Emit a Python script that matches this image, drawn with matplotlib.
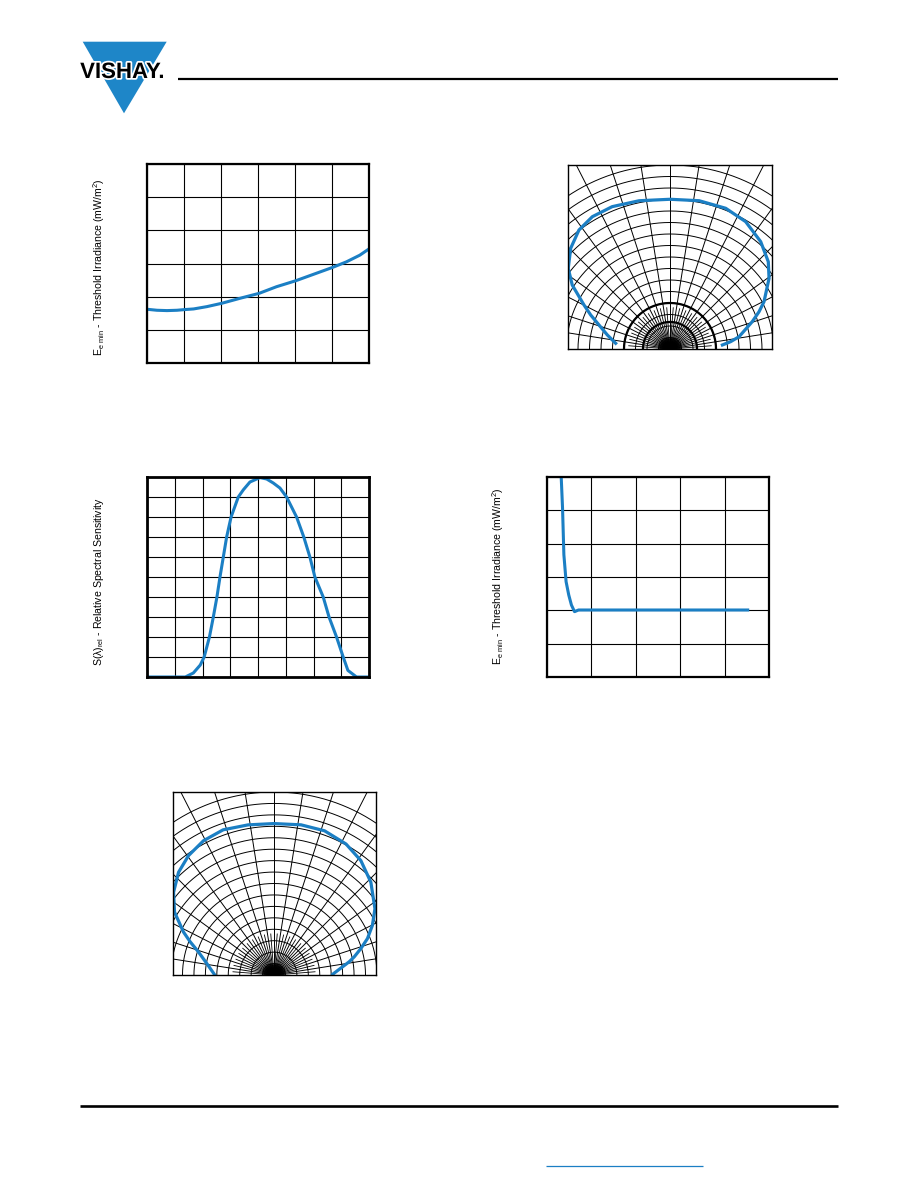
import numpy as np
import matplotlib
matplotlib.use("Agg")
import matplotlib.pyplot as plt
from matplotlib.patches import Polygon
import matplotlib.patheffects as pe

plt.rcParams['font.family'] = ['Liberation Sans', 'DejaVu Sans']
plt.rcParams['mathtext.default'] = 'regular'

BLUE = '#1b7fc4'

# ---------------- data ----------------
# Fig 1: threshold irradiance vs ambient temperature
temp_c = [-30, -24.6, -19.2, -13.8, -9.8, -4.8, 2.4, 10.4, 20.2, 30.6, 40, 50.4, 59.8, 70.2, 77.8, 85, 90]
irr_temp = [0.162, 0.159, 0.158, 0.159, 0.161, 0.163, 0.170, 0.180, 0.195, 0.210,
            0.230, 0.248, 0.267, 0.288, 0.305, 0.325, 0.344]
temp_ticks = [-30, -10, 10, 30, 50, 70, 90]
irr_ticks1 = [0, 0.1, 0.2, 0.3, 0.4, 0.5, 0.6]

# Fig 3: relative spectral sensitivity
wavelength = [750, 819, 833.5, 846, 853, 862.5, 869.5, 876, 881.5, 887.5, 893.5, 901.5, 914.5,
              923.6, 935.5, 953.5, 965.6, 977.5, 989.5, 1001.5, 1019.5, 1032.5, 1043.5, 1052.5,
              1067.5, 1078, 1091.5, 1103.5, 1112, 1127.5, 1150]
s_rel = [0, 0, 0.02, 0.06, 0.1, 0.2, 0.3, 0.4, 0.5, 0.6, 0.7, 0.8, 0.9,
         0.936, 0.975, 0.997, 0.99, 0.97, 0.945, 0.9, 0.8, 0.7, 0.6, 0.5,
         0.4, 0.3, 0.2, 0.1, 0.033, 0, 0]
wl_ticks = [750, 800, 850, 900, 950, 1000, 1050, 1100, 1150]
s_ticks = [0, 0.1, 0.2, 0.3, 0.4, 0.5, 0.6, 0.7, 0.8, 0.9, 1.0]

# Fig 4: threshold irradiance vs. x (no labels in source)
x4 = [0.32, 0.35, 0.38, 0.43, 0.49, 0.55, 0.62, 0.71, 4.52]
irr4 = [0.600, 0.507, 0.367, 0.286, 0.246, 0.216, 0.196, 0.201, 0.201]
x4_ticks = [0, 1, 2, 3, 4, 5]
irr_ticks4 = [0, 0.1, 0.2, 0.3, 0.4, 0.5, 0.6]

# Fig 2 / Fig 5: angular diagrams (angle from axis in deg, radius in grid units)
ang2 = [-84.0, -77.4, -71.3, -66.8, -62.9, -56.8, -51.6, -44.6, -37.4, -30.4, -22.1, -11.8, 0,
        11.1, 21.6, 30.7, 40.2, 48.4, 54.5, 63.3, 67.3, 71.6, 79.9, 83.1, 85.6]
rad2 = [0.475, 0.558, 0.652, 0.750, 0.840, 1.016, 1.129, 1.230, 1.303, 1.334, 1.336, 1.317, 1.302,
        1.314, 1.316, 1.288, 1.222, 1.143, 1.058, 0.915, 0.839, 0.754, 0.610, 0.531, 0.457]
ang5 = [-89.3, -80.2, -73.0, -68.4, -64.6, -57.7, -50.5, -42.9, -35.6, -27.7, -19.3, -9.8, 0,
        10.2, 19.3, 28.8, 37.2, 46.2, 56.7, 63.2, 68.7, 73.0, 77.2, 80.0, 89.3]
rad5 = [0.522, 0.597, 0.691, 0.788, 0.876, 1.029, 1.138, 1.226, 1.284, 1.326, 1.345, 1.332, 1.324,
        1.334, 1.336, 1.307, 1.256, 1.173, 1.056, 0.964, 0.877, 0.795, 0.720, 0.668, 0.513]
grid_r = [0.1 * k for k in range(1, 17)]
grid_ang = list(range(-81, 82, 9))
thick_r2 = [0.235, 0.40]

W, H = 918, 1188
fig = plt.figure(figsize=(W / 100, H / 100), dpi=100)


def add_ax(l, t, w, h):
    return fig.add_axes([l / W, 1 - (t + h) / H, w / W, h / H])


# ---------------- decorations ----------------
deco = fig.add_axes([0, 0, 1, 1], zorder=-5)
deco.set_xlim(0, W)
deco.set_ylim(H, 0)
deco.axis('off')
deco.add_patch(Polygon([(82.7, 41.7), (166.7, 41.7), (124, 113.3)], closed=True,
                       facecolor='#1e86c8', edgecolor='none'))
deco.text(122.5, 78.0, 'VISHAY.', fontsize=16, fontweight='bold', color='black',
          ha='center', va='baseline',
          path_effects=[pe.withStroke(linewidth=2.5, foreground='white')])
deco.plot([178, 838], [78.5, 78.5], color='black', lw=1.6, solid_capstyle='butt')
deco.plot([80, 838], [1105.5, 1105.5], color='black', lw=1.9, solid_capstyle='butt')
deco.plot([546, 703], [1165.5, 1165.5], color=BLUE, lw=0.9, solid_capstyle='butt')


def cart_panel(ax, xt, yt, spine_lw):
    ax.set_xticks(xt)
    ax.set_yticks(yt)
    ax.set_xlim(xt[0], xt[-1])
    ax.set_ylim(yt[0], yt[-1])
    ax.grid(True, color='black', lw=0.8)
    ax.tick_params(length=0, labelbottom=False, labelleft=False)
    for s in ax.spines.values():
        s.set_linewidth(spine_lw)
        s.set_zorder(5)


LABEL_FS = 7.6

# Fig 1
ax1 = add_ax(147, 164, 222, 199)
cart_panel(ax1, temp_ticks, irr_ticks1, 1.6)
ax1.plot(temp_c, irr_temp, color=BLUE, lw=2.2, zorder=4)
fig.text(99 / W, 1 - 267 / H, r'E$_{e\ min}$ - Threshold Irradiance (mW/m$^2$)',
         rotation=90, ha='center', va='center', fontsize=LABEL_FS)

# Fig 3
ax3 = add_ax(147, 477, 222, 200)
cart_panel(ax3, wl_ticks, s_ticks, 2.0)
ax3.plot(wavelength, s_rel, color=BLUE, lw=2.2, zorder=4, solid_joinstyle='round')
fig.text(99 / W, 1 - 582 / H, r'S($\lambda$)$_{rel}$ - Relative Spectral Sensitivity',
         rotation=90, ha='center', va='center', fontsize=LABEL_FS)

# Fig 4
ax4 = add_ax(547, 477, 222, 200)
cart_panel(ax4, x4_ticks, irr_ticks4, 1.6)
ax4.plot(x4, irr4, color=BLUE, lw=2.2, zorder=4)
fig.text(498 / W, 1 - 576 / H, r'E$_{e\ min}$ - Threshold Irradiance (mW/m$^2$)',
         rotation=90, ha='center', va='center', fontsize=LABEL_FS)


def polar_panel(ax, ang, rad, wpx, hpx, thick=()):
    rtop = grid_r[-1]
    hw = rtop * (wpx / 2) / hpx
    ax.set_xlim(-hw, hw)
    ax.set_ylim(0, rtop)
    ax.set_xticks([])
    ax.set_yticks([])
    t = np.radians(np.linspace(-90, 90, 361))
    for r in grid_r:
        ax.plot(r * np.sin(t), r * np.cos(t), color='black', lw=0.7)
    for r in thick:
        ax.plot(r * np.sin(t), r * np.cos(t), color='black', lw=1.6)
    for a in grid_ang:
        ar = np.radians(a)
        ax.plot([0, 3 * np.sin(ar)], [0, 3 * np.cos(ar)], color='black', lw=0.7)
    for a in np.arange(-85.5, 86, 9):
        ar = np.radians(a)
        ax.plot([0, 0.36 * np.sin(ar)], [0, 0.36 * np.cos(ar)], color='black', lw=0.6)
    for a in np.arange(-87.75, 88, 4.5):
        ar = np.radians(a)
        ax.plot([0, 0.09 * np.sin(ar)], [0, 0.09 * np.cos(ar)], color='black', lw=0.6)
    a = np.radians(ang)
    rr = np.asarray(rad)
    ax.plot(rr * np.sin(a), rr * np.cos(a), color=BLUE, lw=2.3, zorder=4,
            solid_joinstyle='round')
    for s in ax.spines.values():
        s.set_linewidth(1.0)
        s.set_zorder(5)


ax2 = add_ax(568, 165, 204, 184)
polar_panel(ax2, ang2, rad2, 204, 184, thick_r2)

ax5 = add_ax(172.5, 792, 203, 183)
polar_panel(ax5, ang5, rad5, 203, 183)

fig.savefig('out.png', dpi=100)
